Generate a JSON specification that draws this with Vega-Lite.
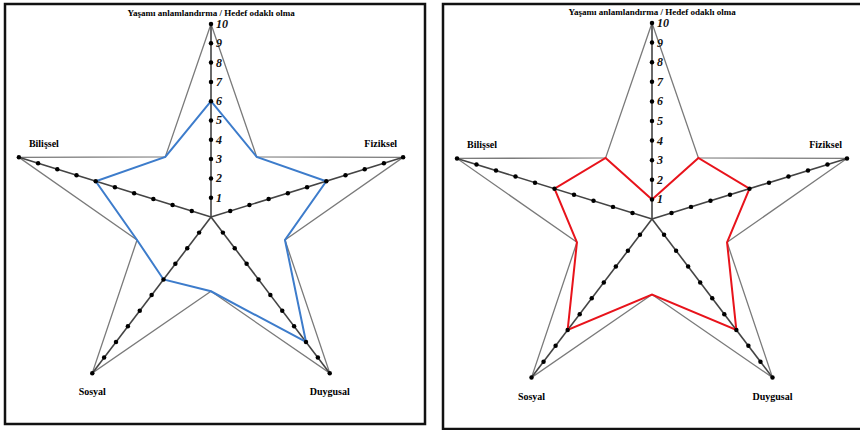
{
  "$schema": "https://vega.github.io/schema/vega-lite/v6.json",
  "padding": {"left": 3, "top": 2, "right": 0, "bottom": 0},
  "background": "white",
  "spacing": 14,
  "config": {"view": {"stroke": "#111111", "strokeWidth": 2.5}},
  "datasets": {
    "outline": [
      {"k": 0, "angle": 0, "r": 10}, {"k": 1, "angle": 36, "r": 3.85},
      {"k": 2, "angle": 72, "r": 10}, {"k": 3, "angle": 108, "r": 3.85},
      {"k": 4, "angle": 144, "r": 10}, {"k": 5, "angle": 180, "r": 3.85},
      {"k": 6, "angle": 216, "r": 10}, {"k": 7, "angle": 252, "r": 3.85},
      {"k": 8, "angle": 288, "r": 10}, {"k": 9, "angle": 324, "r": 3.85},
      {"k": 10, "angle": 360, "r": 10}
    ],
    "axes": [
      {"axis": "Yaşamı anlamlandırma / Hedef odaklı olma", "angle": 0, "ticks": [1,2,3,4,5,6,7,8,9,10]},
      {"axis": "Fiziksel", "angle": 72, "ticks": [1,2,3,4,5,6,7,8,9,10]},
      {"axis": "Duygusal", "angle": 144, "ticks": [1,2,3,4,5,6,7,8,9,10]},
      {"axis": "Sosyal", "angle": 216, "ticks": [1,2,3,4,5,6,7,8,9,10]},
      {"axis": "Bilişsel", "angle": 288, "ticks": [1,2,3,4,5,6,7,8,9,10]}
    ],
    "scores": [
      {"panel": "A", "k": 0, "angle": 0, "r": 6}, {"panel": "A", "k": 1, "angle": 36, "r": 3.85},
      {"panel": "A", "k": 2, "angle": 72, "r": 6}, {"panel": "A", "k": 3, "angle": 108, "r": 3.85},
      {"panel": "A", "k": 4, "angle": 144, "r": 8}, {"panel": "A", "k": 5, "angle": 180, "r": 3.85},
      {"panel": "A", "k": 6, "angle": 216, "r": 4}, {"panel": "A", "k": 7, "angle": 252, "r": 3.85},
      {"panel": "A", "k": 8, "angle": 288, "r": 6}, {"panel": "A", "k": 9, "angle": 324, "r": 3.85},
      {"panel": "A", "k": 10, "angle": 360, "r": 6},
      {"panel": "B", "k": 0, "angle": 0, "r": 1}, {"panel": "B", "k": 1, "angle": 36, "r": 3.85},
      {"panel": "B", "k": 2, "angle": 72, "r": 5}, {"panel": "B", "k": 3, "angle": 108, "r": 3.85},
      {"panel": "B", "k": 4, "angle": 144, "r": 7}, {"panel": "B", "k": 5, "angle": 180, "r": 3.85},
      {"panel": "B", "k": 6, "angle": 216, "r": 7}, {"panel": "B", "k": 7, "angle": 252, "r": 3.85},
      {"panel": "B", "k": 8, "angle": 288, "r": 5}, {"panel": "B", "k": 9, "angle": 324, "r": 3.85},
      {"panel": "B", "k": 10, "angle": 360, "r": 1}
    ]
  },
  "hconcat": [
    {
      "width": 420,
      "height": 420,
      "encoding": {
        "x": {"field": "px", "type": "quantitative", "scale": {"domain": [-10.198, 10.594], "nice": false, "zero": false}, "axis": null},
        "y": {"field": "py", "type": "quantitative", "scale": {"domain": [-10.725, 11.036], "nice": false, "zero": false}, "axis": null}
      },
      "layer": [
        {
          "data": {"name": "outline"},
          "transform": [
            {"calculate": "datum.r * sin(datum.angle * PI / 180)", "as": "px"},
            {"calculate": "datum.r * cos(datum.angle * PI / 180)", "as": "py"}
          ],
          "mark": {"type": "line", "color": "#7a7a7a", "strokeWidth": 1.3},
          "encoding": {"order": {"field": "k", "type": "quantitative"}}
        },
        {
          "data": {"name": "axes"},
          "transform": [
            {"calculate": "0", "as": "px"},
            {"calculate": "0", "as": "py"},
            {"calculate": "10 * sin(datum.angle * PI / 180)", "as": "px2"},
            {"calculate": "10 * cos(datum.angle * PI / 180)", "as": "py2"}
          ],
          "mark": {"type": "rule", "color": "#444444", "strokeWidth": 1.6},
          "encoding": {"x2": {"field": "px2"}, "y2": {"field": "py2"}}
        },
        {
          "data": {"name": "scores"},
          "transform": [
            {"filter": "datum.panel == 'A'"},
            {"calculate": "datum.r * sin(datum.angle * PI / 180)", "as": "px"},
            {"calculate": "datum.r * cos(datum.angle * PI / 180)", "as": "py"}
          ],
          "mark": {"type": "line", "color": "#3d7ccb", "strokeWidth": 2},
          "encoding": {"order": {"field": "k", "type": "quantitative"}}
        },
        {
          "data": {"name": "axes"},
          "transform": [
            {"flatten": ["ticks"]},
            {"calculate": "datum.ticks * sin(datum.angle * PI / 180)", "as": "px"},
            {"calculate": "datum.ticks * cos(datum.angle * PI / 180)", "as": "py"}
          ],
          "mark": {"type": "point", "filled": true, "color": "black", "opacity": 1, "size": 20}
        },
        {
          "data": {"name": "axes"},
          "transform": [
            {"filter": "datum.angle == 0"},
            {"flatten": ["ticks"]},
            {"calculate": "0", "as": "px"},
            {"calculate": "datum.ticks", "as": "py"}
          ],
          "mark": {"type": "text", "font": "Liberation Serif", "fontStyle": "italic", "fontWeight": "bold", "fontSize": 12, "align": "left", "baseline": "middle", "dx": 5, "color": "#111111"},
          "encoding": {"text": {"field": "ticks", "type": "quantitative"}}
        },
        {
          "data": {"name": "axes"},
          "transform": [
            {"filter": "datum.angle == 0"},
            {"calculate": "0", "as": "px"},
            {"calculate": "10", "as": "py"}
          ],
          "mark": {"type": "text", "font": "Liberation Serif", "fontWeight": "bold", "fontSize": 9, "align": "center", "baseline": "middle", "dy": -11, "color": "black"},
          "encoding": {"text": {"field": "axis"}}
        },
        {
          "data": {"name": "axes"},
          "transform": [
            {"filter": "datum.angle == 288"},
            {"calculate": "10 * sin(datum.angle * PI / 180)", "as": "px"},
            {"calculate": "10 * cos(datum.angle * PI / 180)", "as": "py"}
          ],
          "mark": {"type": "text", "font": "Liberation Serif", "fontWeight": "bold", "fontSize": 10, "align": "left", "baseline": "middle", "dx": 10, "dy": -13, "color": "black"},
          "encoding": {"text": {"field": "axis"}}
        },
        {
          "data": {"name": "axes"},
          "transform": [
            {"filter": "datum.angle == 72"},
            {"calculate": "10 * sin(datum.angle * PI / 180)", "as": "px"},
            {"calculate": "10 * cos(datum.angle * PI / 180)", "as": "py"}
          ],
          "mark": {"type": "text", "font": "Liberation Serif", "fontWeight": "bold", "fontSize": 10, "align": "right", "baseline": "middle", "dx": -6, "dy": -13, "color": "black"},
          "encoding": {"text": {"field": "axis"}}
        },
        {
          "data": {"name": "axes"},
          "transform": [
            {"filter": "datum.angle == 144 || datum.angle == 216"},
            {"calculate": "10 * sin(datum.angle * PI / 180)", "as": "px"},
            {"calculate": "10 * cos(datum.angle * PI / 180)", "as": "py"}
          ],
          "mark": {"type": "text", "font": "Liberation Serif", "fontWeight": "bold", "fontSize": 10, "align": "center", "baseline": "middle", "dy": 19, "color": "black"},
          "encoding": {"text": {"field": "axis"}}
        }
      ]
    },
    {
      "width": 421,
      "height": 425,
      "encoding": {
        "x": {"field": "px", "type": "quantitative", "scale": {"domain": [-10.195, 10.341], "nice": false, "zero": false}, "axis": null},
        "y": {"field": "py", "type": "quantitative", "scale": {"domain": [-10.714, 10.969], "nice": false, "zero": false}, "axis": null}
      },
      "layer": [
        {
          "data": {"name": "outline"},
          "transform": [
            {"calculate": "datum.r * sin(datum.angle * PI / 180)", "as": "px"},
            {"calculate": "datum.r * cos(datum.angle * PI / 180)", "as": "py"}
          ],
          "mark": {"type": "line", "color": "#7a7a7a", "strokeWidth": 1.3},
          "encoding": {"order": {"field": "k", "type": "quantitative"}}
        },
        {
          "data": {"name": "axes"},
          "transform": [
            {"calculate": "0", "as": "px"},
            {"calculate": "0", "as": "py"},
            {"calculate": "10 * sin(datum.angle * PI / 180)", "as": "px2"},
            {"calculate": "10 * cos(datum.angle * PI / 180)", "as": "py2"}
          ],
          "mark": {"type": "rule", "color": "#444444", "strokeWidth": 1.6},
          "encoding": {"x2": {"field": "px2"}, "y2": {"field": "py2"}}
        },
        {
          "data": {"name": "scores"},
          "transform": [
            {"filter": "datum.panel == 'B'"},
            {"calculate": "datum.r * sin(datum.angle * PI / 180)", "as": "px"},
            {"calculate": "datum.r * cos(datum.angle * PI / 180)", "as": "py"}
          ],
          "mark": {"type": "line", "color": "#e8131b", "strokeWidth": 2},
          "encoding": {"order": {"field": "k", "type": "quantitative"}}
        },
        {
          "data": {"name": "axes"},
          "transform": [
            {"flatten": ["ticks"]},
            {"calculate": "datum.ticks * sin(datum.angle * PI / 180)", "as": "px"},
            {"calculate": "datum.ticks * cos(datum.angle * PI / 180)", "as": "py"}
          ],
          "mark": {"type": "point", "filled": true, "color": "black", "opacity": 1, "size": 20}
        },
        {
          "data": {"name": "axes"},
          "transform": [
            {"filter": "datum.angle == 0"},
            {"flatten": ["ticks"]},
            {"calculate": "0", "as": "px"},
            {"calculate": "datum.ticks", "as": "py"}
          ],
          "mark": {"type": "text", "font": "Liberation Serif", "fontStyle": "italic", "fontWeight": "bold", "fontSize": 12, "align": "left", "baseline": "middle", "dx": 5, "color": "#111111"},
          "encoding": {"text": {"field": "ticks", "type": "quantitative"}}
        },
        {
          "data": {"name": "axes"},
          "transform": [
            {"filter": "datum.angle == 0"},
            {"calculate": "0", "as": "px"},
            {"calculate": "10", "as": "py"}
          ],
          "mark": {"type": "text", "font": "Liberation Serif", "fontWeight": "bold", "fontSize": 9, "align": "center", "baseline": "middle", "dy": -11, "color": "black"},
          "encoding": {"text": {"field": "axis"}}
        },
        {
          "data": {"name": "axes"},
          "transform": [
            {"filter": "datum.angle == 288"},
            {"calculate": "10 * sin(datum.angle * PI / 180)", "as": "px"},
            {"calculate": "10 * cos(datum.angle * PI / 180)", "as": "py"}
          ],
          "mark": {"type": "text", "font": "Liberation Serif", "fontWeight": "bold", "fontSize": 10, "align": "left", "baseline": "middle", "dx": 10, "dy": -13, "color": "black"},
          "encoding": {"text": {"field": "axis"}}
        },
        {
          "data": {"name": "axes"},
          "transform": [
            {"filter": "datum.angle == 72"},
            {"calculate": "10 * sin(datum.angle * PI / 180)", "as": "px"},
            {"calculate": "10 * cos(datum.angle * PI / 180)", "as": "py"}
          ],
          "mark": {"type": "text", "font": "Liberation Serif", "fontWeight": "bold", "fontSize": 10, "align": "right", "baseline": "middle", "dx": -5, "dy": -13, "color": "black"},
          "encoding": {"text": {"field": "axis"}}
        },
        {
          "data": {"name": "axes"},
          "transform": [
            {"filter": "datum.angle == 144 || datum.angle == 216"},
            {"calculate": "10 * sin(datum.angle * PI / 180)", "as": "px"},
            {"calculate": "10 * cos(datum.angle * PI / 180)", "as": "py"}
          ],
          "mark": {"type": "text", "font": "Liberation Serif", "fontWeight": "bold", "fontSize": 10, "align": "center", "baseline": "middle", "dy": 19, "color": "black"},
          "encoding": {"text": {"field": "axis"}}
        }
      ]
    }
  ]
}
